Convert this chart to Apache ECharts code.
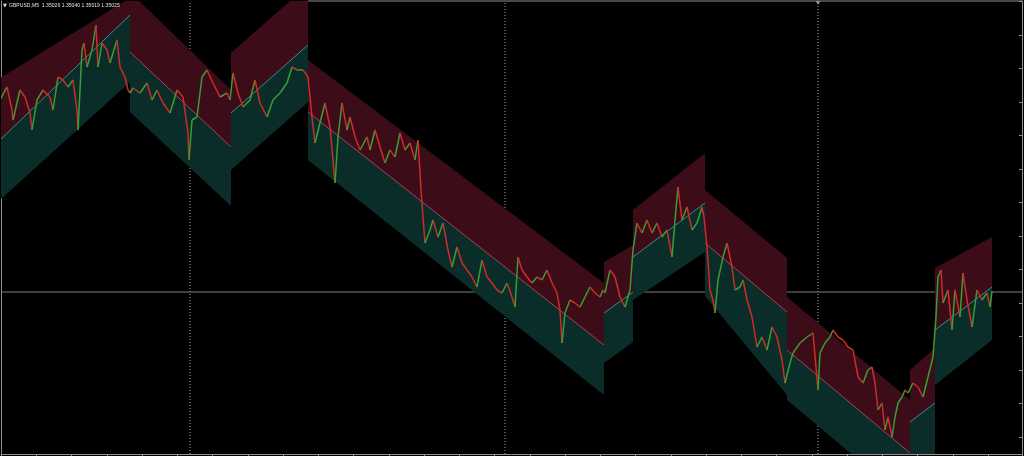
<!DOCTYPE html>
<html>
<head>
<meta charset="utf-8">
<script src="https://cdn.jsdelivr.net/npm/echarts@6/dist/echarts.min.js"></script>
<style>
html,body{margin:0;padding:0;background:#000;}
#chart{width:1024px;height:456px;}
</style>
</head>
<body>
<div id="chart"></div>
<script>
// ---------- data (prices in points: 135025 = 1.35025) ----------
const symbolName = 'GBPUSD,M5';
const quoteOHLC = ['1.35026', '1.35040', '1.35019', '1.35025'];
const bidPrice = 135020;
const sepX = [190, 505, 818];           // period separators (bar index)
const priceMin = 134210, priceMax = 136475;
const barMin = 1, barMax = 1022;

// regression channels: start/end bar, upper/middle/lower line at start and end
const chanStart = [0, 130, 231, 308, 604, 633, 705, 787, 910, 935];
const chanEnd   = [130, 231, 308, 604, 633, 705, 787, 910, 935, 992];
const chanTop0  = [136090, 136520, 136215, 136180, 135170, 135430, 135530, 134995, 134630, 135140];
const chanTop1  = [136490, 136030, 136555, 135065, 135255, 135715, 135190, 134480, 134740, 135295];
const chanMid0  = [135780, 136220, 135915, 135920, 134915, 135195, 135265, 134730, 134370, 134830];
const chanMid1  = [136405, 135745, 136255, 134755, 135020, 135465, 134920, 134215, 134465, 135045];
const chanBot0  = [135480, 135920, 135630, 135680, 134665, 134980, 135000, 134480, 134120, 134555];
const chanBot1  = [136070, 135450, 135970, 134505, 134770, 135220, 134505, 133965, 134205, 134780];

// price path (bar index, price)
const priceX = [0,7,12,13,20,25,30,32,37,43,50,53,58,63,68,73,77,78,82,84,87,92,96,98,102,107,110,117,120,125,128,130,
133,140,147,152,157,163,170,177,183,188,189,192,197,202,207,213,220,227,230,
233,238,243,250,255,260,267,273,280,287,292,297,303,308,
312,315,320,325,330,335,338,342,347,350,355,360,367,370,375,380,385,390,395,400,405,410,415,418,421,423,425,430,433,438,443,448,452,457,462,467,472,477,482,487,492,497,502,507,512,515,518,522,527,532,537,542,547,552,557,560,562,565,570,575,580,585,590,595,600,603,
605,610,615,620,625,630,633,637,642,647,652,657,662,667,672,675,678,682,687,692,697,702,704,
707,710,713,715,718,723,727,732,735,740,743,747,752,757,762,767,772,777,782,785,
790,793,800,807,813,818,820,825,830,833,838,843,848,853,858,863,868,872,875,878,882,885,888,892,895,898,902,905,908,
913,918,923,928,933,936,938,941,943,948,952,955,960,963,967,972,977,982,987,990,992];
const priceClose = [135980,136045,135930,135880,136030,135995,135915,135830,135980,136030,135995,135930,136095,136080,136045,136080,135930,135830,136230,136265,136145,136230,136355,136145,136265,136230,136165,136280,136145,136095,136030,136015,
136040,136015,136065,135980,136030,135965,135915,136030,135995,135815,135680,135880,135895,136095,136130,136065,135995,136015,135980,
136115,136015,135945,135980,136080,135965,135895,135980,136015,136065,136145,136130,136130,136095,
135895,135765,135865,135965,135845,135565,135795,135965,135830,135895,135795,135730,135795,135730,135830,135745,135665,135730,135695,135815,135730,135765,135680,135780,135530,135395,135265,135330,135380,135295,135365,135230,135145,135245,135165,135130,135095,135045,135180,135095,135065,135030,135015,135065,134995,134945,135195,135130,135095,135065,135095,135080,135130,135065,135015,134930,134765,134915,134980,134965,134945,134995,135045,135015,134995,135030,
135015,135130,135095,134995,134945,135030,135230,135365,135315,135380,135315,135365,135295,135330,135195,135380,135545,135380,135445,135330,135365,135445,135395,
135245,135030,134980,134915,135080,135195,135265,135145,135030,135045,135080,134980,134895,134745,134795,134730,134845,134795,134680,134565,
134665,134715,134765,134795,134815,134530,134715,134765,134795,134830,134795,134780,134745,134730,134595,134565,134630,134645,134565,134430,134465,134330,134395,134295,134395,134465,134495,134530,134515,
134565,134545,134495,134595,134695,134895,135095,135130,134965,135030,134830,135030,134895,135115,134980,134845,135030,134980,135015,134945,135025];

// right price-scale tick marks
const priceTicks = [134295,134462.5,134630,134797.5,134965,135132.5,135300,135467.5,135635,135802.5,135970,136137.5,136305,136472.5];

// ---------- styles ----------
const RED_FILL = '#3c0c18', TEAL_FILL = '#0b2d2a';
const MID_UP = '#3f8c86', MID_DN = '#a8445f';
const CANDLE_UP = '#3c9c34', CANDLE_DN = '#cc2c2a';
const FRAME = '#8f8f8f';

const chanData = chanStart.map((s, i) => [s, chanEnd[i], chanTop0[i], chanTop1[i], chanMid0[i], chanMid1[i], chanBot0[i], chanBot1[i]]);
const pathData = [];
for (let i = 1; i < priceX.length; i++) pathData.push([priceX[i - 1], priceClose[i - 1], priceX[i], priceClose[i]]);

const bgLine = (data, style) => ({
  type: 'line', z: 1, silent: true, symbol: 'none', clip: false, animation: false,
  data: data, lineStyle: style
});

const chart = echarts.init(document.getElementById('chart'), null, {renderer: 'canvas'});
chart.setOption({
  backgroundColor: '#000',
  animation: false,
  grid: {left: 1, top: 1, width: 1021, height: 453, show: false},
  xAxis: {
    type: 'value', min: barMin, max: barMax, interval: 35.25,
    axisLine: {show: true, lineStyle: {color: FRAME, width: 1}},
    axisTick: {show: true, length: 2, lineStyle: {color: FRAME}},
    axisLabel: {show: false}, splitLine: {show: false}
  },
  yAxis: [{
    type: 'value', min: priceMin, max: priceMax, position: 'left',
    axisLine: {show: true, onZero: false, lineStyle: {color: FRAME}},
    axisTick: {show: false}, axisLabel: {show: false}, splitLine: {show: false}
  }, {
    type: 'value', min: priceMin, max: priceMax, position: 'right',
    axisLine: {show: true, onZero: false, lineStyle: {color: FRAME}},
    axisTick: {show: true, inside: true, length: 3, customValues: priceTicks, lineStyle: {color: FRAME}},
    axisLabel: {show: false}, splitLine: {show: false}
  }],
  graphic: [
    {type: 'text', z: 100, left: 3, top: 3, style: {text: '▼', fill: '#e0e0e0', font: '5px "DejaVu Sans"'}},
    {type: 'text', z: 100, left: 9, top: 3, style: {text: symbolName + '  ' + quoteOHLC.join(' '), fill: '#e0e0e0', font: '5.1px "Liberation Sans Narrow", "Liberation Sans"'}}
  ],
  series: [
    ...sepX.map(x => bgLine([[x, priceMin], [x, priceMax]], {type: [1, 2], color: '#a6a6a6', width: 1})),
    bgLine([[barMin, bidPrice], [barMax, bidPrice]], {type: 'solid', color: '#7c7c7c', width: 1}),
    bgLine([[308, priceMax], [barMax, priceMax]], {type: 'solid', color: FRAME, width: 1}),
    {
      type: 'scatter', z: 1, silent: true, clip: false,
      data: [[sepX[2], priceMax]], symbol: 'triangle', symbolSize: [5, 4], symbolRotate: 180, symbolOffset: [0, 2],
      itemStyle: {color: '#a6a6a6'}
    },
    {
      type: 'custom', z: 10, clip: true, silent: true,
      encode: {x: [0, 1], y: [2, 3, 4, 5, 6, 7]},
      data: chanData,
      renderItem: function (params, api) {
        const x0 = api.value(0), x1 = api.value(1);
        const T0 = api.coord([x0, api.value(2)]), T1 = api.coord([x1, api.value(3)]);
        const M0 = api.coord([x0, api.value(4)]), M1 = api.coord([x1, api.value(5)]);
        const B0 = api.coord([x0, api.value(6)]), B1 = api.coord([x1, api.value(7)]);
        const up = api.value(5) > api.value(4);
        return {type: 'group', children: [
          {type: 'polygon', shape: {points: [T0, T1, M1, M0]}, style: {fill: RED_FILL}},
          {type: 'polygon', shape: {points: [M0, M1, B1, B0]}, style: {fill: TEAL_FILL}},
          {type: 'line', shape: {x1: M0[0], y1: M0[1], x2: M1[0], y2: M1[1]}, style: {stroke: up ? MID_UP : MID_DN, lineWidth: 1}}
        ]};
      }
    },
    {
      type: 'custom', z: 11, clip: true, silent: true,
      encode: {x: [0, 2], y: [1, 3]},
      data: pathData,
      renderItem: function (params, api) {
        const a = api.coord([api.value(0), api.value(1)]);
        const b = api.coord([api.value(2), api.value(3)]);
        const up = api.value(3) >= api.value(1);
        return {type: 'line', shape: {x1: a[0], y1: a[1], x2: b[0], y2: b[1]}, style: {stroke: up ? CANDLE_UP : CANDLE_DN, lineWidth: 1.5}};
      }
    }
  ]
});
</script>
</body>
</html>
